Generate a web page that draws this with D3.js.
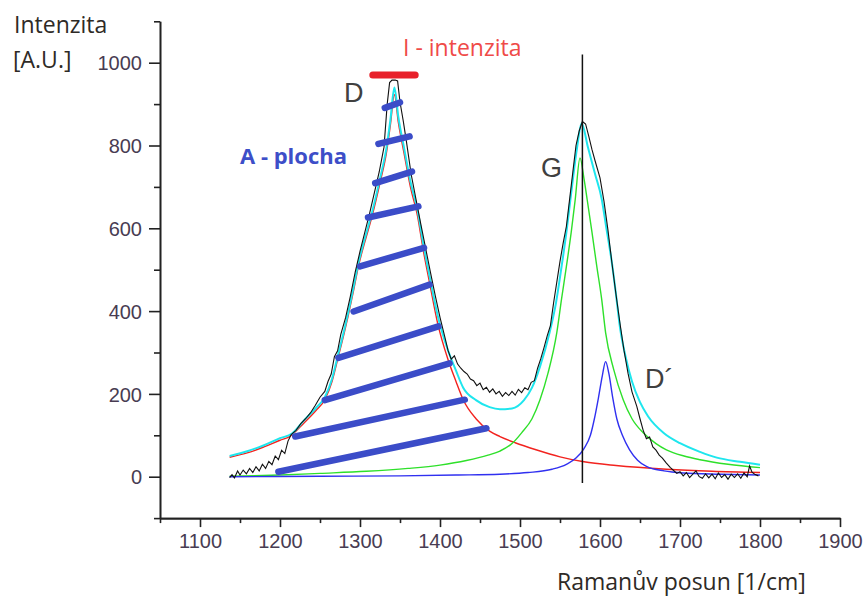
<!DOCTYPE html>
<html>
<head>
<meta charset="utf-8">
<script src="https://cdn.jsdelivr.net/npm/d3@7"></script>
<style>
  body { margin: 0; background: #fff; }
  svg { display: block; }
</style>
</head>
<body>
<svg width="866" height="599"></svg>
<script>
// tick values
const xMajor = [1100, 1200, 1300, 1400, 1500, 1600, 1700, 1800, 1900];
const xMinor = [1050, 1150, 1250, 1350, 1450, 1550, 1650, 1750, 1850];
const yMajor = [0, 200, 400, 600, 800, 1000];
const yMinor = [-100, 100, 300, 500, 700, 900, 1100];

// fitted D band (red)
const redX = [1137, 1160, 1180, 1200, 1212, 1230, 1245, 1256, 1265, 1272, 1280, 1285, 1292, 1298, 1305, 1315, 1325, 1333, 1338, 1343, 1348, 1355, 1363, 1372, 1379, 1387, 1397, 1410, 1420, 1429, 1445, 1462, 1475, 1494, 1520, 1550, 1580, 1620, 1683, 1740, 1800];
const redY = [47, 58, 72, 88, 97, 130, 160, 186, 230, 283, 345, 387, 450, 508, 560, 629, 710, 782, 850, 923, 855, 782, 700, 629, 548, 468, 371, 283, 230, 186, 140, 110, 97, 82, 65, 48, 36, 27, 18, 13, 10];

// fitted G band (green)
const greenX = [1137, 1200, 1250, 1308, 1360, 1400, 1433, 1460, 1475, 1490, 1502, 1515, 1525, 1535, 1546, 1552, 1558, 1564, 1569, 1575, 1580, 1584, 1590, 1596, 1602, 1607, 1617, 1629, 1640, 1654, 1670, 1683, 1705, 1725, 1760, 1800];
const greenY = [1, 4, 8, 13, 20, 28, 39, 52, 62, 80, 106, 140, 186, 250, 348, 430, 508, 590, 669, 770, 720, 669, 590, 508, 430, 348, 260, 186, 140, 106, 80, 65, 50, 41, 30, 22];

// fitted D' band (blue)
const blueX = [1137, 1250, 1350, 1420, 1475, 1510, 1540, 1558, 1570, 1580, 1588, 1593, 1598, 1603, 1607, 1611, 1616, 1621, 1628, 1637, 1647, 1658, 1680, 1704, 1750, 1800];
const blueY = [0, 1, 2, 4, 6, 10, 18, 30, 45, 68, 100, 140, 190, 245, 278, 250, 190, 140, 100, 65, 40, 25, 14, 9, 6, 4];

// total fit (cyan)
const cyanX = [1137, 1160, 1180, 1200, 1215, 1230, 1245, 1256, 1265, 1272, 1280, 1285, 1292, 1298, 1305, 1315, 1325, 1333, 1338, 1343, 1348, 1355, 1363, 1372, 1379, 1387, 1397, 1410, 1420, 1429, 1445, 1462, 1475, 1490, 1505, 1515, 1525, 1537, 1545, 1552, 1558, 1563, 1571, 1577, 1585, 1594, 1602, 1608, 1615, 1620, 1625, 1632, 1640, 1650, 1660, 1680, 1700, 1725, 1746, 1775, 1800];
const cyanY = [50, 62, 76, 93, 104, 136, 166, 192, 236, 290, 352, 394, 458, 516, 568, 638, 720, 793, 862, 940, 868, 795, 713, 643, 563, 484, 390, 305, 256, 215, 185, 168, 163, 165, 185, 215, 266, 348, 420, 508, 590, 669, 790, 854, 795, 730, 672, 600, 515, 440, 360, 290, 230, 180, 146, 105, 81, 60, 46, 36, 29];

// measured spectrum (black)
const specX = [1137, 1140, 1143, 1147, 1150, 1154, 1158, 1162, 1166, 1170, 1174, 1178, 1182, 1186, 1190, 1194, 1198, 1202, 1206, 1210, 1214, 1220, 1226, 1232, 1238, 1244, 1250, 1256, 1260, 1264, 1268, 1272, 1276, 1282, 1288, 1294, 1300, 1306, 1312, 1318, 1324, 1330, 1334, 1337, 1340, 1344, 1347, 1350, 1354, 1358, 1364, 1370, 1376, 1382, 1388, 1394, 1400, 1406, 1410, 1414, 1418, 1422, 1426, 1430, 1434, 1438, 1442, 1446, 1450, 1454, 1458, 1462, 1466, 1470, 1474, 1478, 1482, 1486, 1490, 1494, 1498, 1502, 1506, 1510, 1514, 1518, 1522, 1526, 1530, 1534, 1538, 1542, 1546, 1550, 1554, 1558, 1562, 1566, 1570, 1574, 1578, 1582, 1586, 1590, 1594, 1600, 1605, 1610, 1615, 1620, 1625, 1630, 1635, 1640, 1646, 1650, 1654, 1658, 1662, 1666, 1670, 1674, 1678, 1683, 1688, 1692, 1696, 1700, 1704, 1708, 1712, 1716, 1720, 1724, 1728, 1732, 1736, 1740, 1744, 1748, 1752, 1756, 1760, 1764, 1768, 1772, 1776, 1780, 1784, 1787, 1790, 1794, 1798];
const specY = [-2, 5, -3, 14, 4, 16, 7, 20, 10, 24, 14, 30, 20, 37, 29, 50, 41, 64, 56, 86, 102, 112, 128, 140, 154, 172, 192, 206, 230, 248, 290, 304, 344, 384, 436, 494, 544, 590, 636, 686, 736, 796, 900, 952, 958, 958, 956, 905, 860, 810, 730, 670, 610, 552, 494, 438, 385, 338, 305, 284, 292, 272, 262, 254, 248, 236, 232, 220, 226, 210, 216, 204, 212, 200, 206, 194, 203, 196, 206, 197, 211, 203, 215, 210, 228, 232, 262, 285, 312, 340, 365, 420, 470, 520, 565, 605, 670, 735, 800, 835, 858, 852, 822, 790, 762, 722, 665, 595, 515, 440, 370, 305, 250, 205, 170, 140, 112, 92, 96, 72, 64, 52, 45, 33, 22, 15, 8, 12, 2, 10, -2, 6, 14, 0, -4, 7, -3, 6, -5, 9, -2, 5, -6, 6, -2, 7, -4, 9, 0, 26, 11, 5, 2];

// hatch strokes marking the area A (x1, y1, x2, y2 in data units)
const hatch = [
  [1331, 891, 1350, 904],
  [1323, 804, 1362, 822],
  [1319, 709, 1365, 737],
  [1310, 626, 1373, 653],
  [1300, 508, 1380, 553],
  [1292, 399, 1387, 464],
  [1273, 287, 1398, 363],
  [1256, 185, 1412, 274],
  [1219, 97, 1431, 186],
  [1198, 12, 1458, 117]
];

// marks: intensity bar, G position
const barX = [1316, 1369];
const barY = 970;
const gLineX = 1578;
const gLineY = [-15, 1020];

const svg = d3.select('svg');

const xScale = d3.scaleLinear().domain([1050, 1900]).range([160, 840]);
const yScale = d3.scaleLinear().domain([-100, 1100]).range([518.1, 21.3]);

const toPts = (xs, ys) => xs.map((x, i) => [x, ys[i]]);

const smooth = d3.line()
    .x(d => xScale(d[0]))
    .y(d => yScale(d[1]))
    .curve(d3.curveMonotoneX);

const raw = d3.line()
    .x(d => xScale(d[0]))
    .y(d => yScale(d[1]));

const g = svg.append('g');

// fits
g.append('path').attr('d', smooth(toPts(redX, redY)))
    .attr('fill', 'none').attr('stroke', '#f2231f').attr('stroke-width', 1.4);
g.append('path').attr('d', smooth(toPts(greenX, greenY)))
    .attr('fill', 'none').attr('stroke', '#2ee02a').attr('stroke-width', 1.4);
g.append('path').attr('d', smooth(toPts(blueX, blueY)))
    .attr('fill', 'none').attr('stroke', '#3030f0').attr('stroke-width', 1.4);
g.append('path').attr('d', smooth(toPts(cyanX, cyanY)))
    .attr('fill', 'none').attr('stroke', '#1ee6ee').attr('stroke-width', 2);

// measured spectrum over the fits
g.append('path').attr('d', raw(toPts(specX, specY)))
    .attr('fill', 'none').attr('stroke', '#111').attr('stroke-width', 1.1);

// vertical line at G
g.append('line')
    .attr('x1', xScale(gLineX)).attr('x2', xScale(gLineX))
    .attr('y1', yScale(gLineY[0])).attr('y2', yScale(gLineY[1]))
    .attr('stroke', '#111').attr('stroke-width', 1.5);

// hatch
g.selectAll('line.hatch').data(hatch)
  .enter().append('line')
    .attr('class', 'hatch')
    .attr('x1', d => xScale(d[0])).attr('y1', d => yScale(d[1]))
    .attr('x2', d => xScale(d[2])).attr('y2', d => yScale(d[3]))
    .attr('stroke', '#3b4cc8').attr('stroke-width', 6.5)
    .attr('stroke-linecap', 'round');

// intensity bar
g.append('line')
    .attr('x1', xScale(barX[0])).attr('x2', xScale(barX[1]))
    .attr('y1', yScale(barY)).attr('y2', yScale(barY))
    .attr('stroke', '#e8202a').attr('stroke-width', 7)
    .attr('stroke-linecap', 'round');

// axes
const xAxisG = svg.append('g').attr('transform', `translate(0,${yScale(-100)})`);
const yAxisG = svg.append('g').attr('transform', `translate(${xScale(1050)},0)`);

const fmt = d3.format('d');
xAxisG.call(d3.axisBottom(xScale).tickValues(xMajor).tickFormat(fmt).tickSize(9).tickSizeOuter(0).tickPadding(7));
xAxisG.append('g').call(d3.axisBottom(xScale).tickValues(xMinor).tickSize(5).tickSizeOuter(0).tickFormat(''));
yAxisG.call(d3.axisLeft(yScale).tickValues(yMajor).tickFormat(fmt).tickSize(11).tickSizeOuter(0).tickPadding(7));
yAxisG.append('g').call(d3.axisLeft(yScale).tickValues(yMinor).tickSize(6).tickSizeOuter(0).tickFormat(''));

svg.selectAll('.domain').attr('stroke', '#222').attr('stroke-width', 1.6);
svg.selectAll('.tick line').attr('stroke', '#222').attr('stroke-width', 1.6);
svg.selectAll('.tick text')
    .attr('font-size', null).attr('font-family', null)
    .style('font-family', "'Liberation Sans', Arial, sans-serif")
    .style('font-size', '20px')
    .style('fill', '#483c52');
yAxisG.selectAll('.tick text').attr('dy', '0.36em');

// titles
const title = (x, y, s) => svg.append('text').attr('x', x).attr('y', y)
    .style('font-family', "'Open Sans', sans-serif").style('font-size', '23px')
    .style('fill', '#2e2a26').text(s);
title(14, 33, 'Intenzita');
title(13, 68, '[A.U.]');
title(557, 590, 'Ramanův posun [1/cm]');

// annotations
svg.append('text').attr('x', 403).attr('y', 56)
    .style('font-family', "'Open Sans', sans-serif").style('font-size', '23px')
    .style('fill', '#ef4a48').text('I - intenzita');
svg.append('text').attr('x', 240).attr('y', 164)
    .style('font-family', "'Open Sans', sans-serif").style('font-size', '22px')
    .style('font-weight', 'bold').style('fill', '#3d4ec8').text('A - plocha');
const peak = (x, y, s) => svg.append('text').attr('x', x).attr('y', y)
    .style('font-family', "'Liberation Sans', Arial, sans-serif").style('font-size', '27px')
    .style('fill', '#404040').text(s);
peak(344, 102, 'D');
peak(541, 177, 'G');
peak(645, 388, 'D´');
</script>
</body>
</html>
